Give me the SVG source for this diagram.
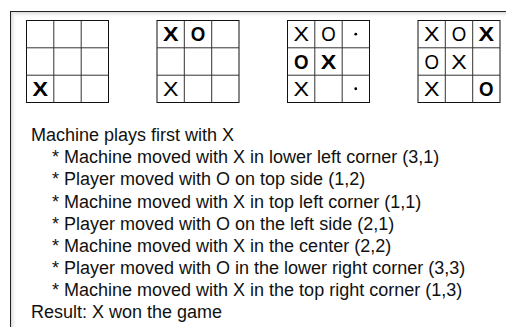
<svg xmlns="http://www.w3.org/2000/svg" xmlns:xlink="http://www.w3.org/1999/xlink" width="506" height="327" viewBox="0 0 506 327">
  <style>
    .grid { fill: #fff; stroke: #111; stroke-width: 1; }
    .gl { stroke: #333; stroke-width: 1; fill: none; }
    .m { font-family: "Liberation Sans", Arial, sans-serif; font-size: 20px; text-anchor: middle; fill: #000; }
    .b { font-weight: bold; }
    .t { font-family: "Liberation Sans", Arial, sans-serif; font-size: 18px; fill: #111; }
  </style>
  <defs>
    <linearGradient id="shTop" x1="0" y1="0" x2="0" y2="1">
      <stop offset="0" stop-color="#d8d8d8"/>
      <stop offset="1" stop-color="#ffffff" stop-opacity="0"/>
    </linearGradient>
    <linearGradient id="shLeft" x1="0" y1="0" x2="1" y2="0">
      <stop offset="0" stop-color="#d8d8d8"/>
      <stop offset="1" stop-color="#ffffff" stop-opacity="0"/>
    </linearGradient>
    <g id="board">
      <rect class="grid" x="0" y="0" width="82" height="82"/>
      <path class="gl" d="M27.3 0V82M54.7 0V82M0 27.3H82M0 54.7H82"/>
    </g>
  </defs>
  <rect x="0" y="0" width="506" height="327" fill="#fff"/>
  <g id="frame">
    <rect x="10.5" y="11.5" width="600" height="400" fill="#fff" stroke="#222" stroke-width="1"/>
    <rect x="11" y="12" width="495" height="6" fill="url(#shTop)"/>
    <rect x="11" y="12" width="6" height="315" fill="url(#shLeft)"/>
  </g>
  <g id="board1">
    <use href="#board" x="26.5" y="20.5"/>
    <text class="m b" x="40.15" y="96" textLength="15.5" lengthAdjust="spacingAndGlyphs">X</text>
  </g>
  <g id="board2">
    <use href="#board" x="157" y="20.5"/>
    <text class="m b" x="170.65" y="41.4" textLength="15.5" lengthAdjust="spacingAndGlyphs">X</text>
    <text class="m b" x="197.95" y="41.4" textLength="14.5" lengthAdjust="spacingAndGlyphs">O</text>
    <text class="m" x="170.65" y="96" textLength="15.5" lengthAdjust="spacingAndGlyphs">X</text>
  </g>
  <g id="board3">
    <use href="#board" x="287.5" y="20.5"/>
    <text class="m" x="301.15" y="41.4" textLength="15.5" lengthAdjust="spacingAndGlyphs">X</text>
    <text class="m" x="328.45" y="41.4" textLength="14.5" lengthAdjust="spacingAndGlyphs">O</text>
    <circle cx="355.75" cy="34.15" r="1.4" fill="#000"/>
    <text class="m b" x="301.15" y="68.7" textLength="14.5" lengthAdjust="spacingAndGlyphs">O</text>
    <text class="m b" x="328.45" y="68.7" textLength="15.5" lengthAdjust="spacingAndGlyphs">X</text>
    <text class="m" x="301.15" y="96" textLength="15.5" lengthAdjust="spacingAndGlyphs">X</text>
    <circle cx="355.75" cy="88.75" r="1.4" fill="#000"/>
  </g>
  <g id="board4">
    <use href="#board" x="418" y="20.5"/>
    <text class="m" x="431.65" y="41.4" textLength="15.5" lengthAdjust="spacingAndGlyphs">X</text>
    <text class="m" x="458.95" y="41.4" textLength="14.5" lengthAdjust="spacingAndGlyphs">O</text>
    <text class="m b" x="486.25" y="41.4" textLength="15.5" lengthAdjust="spacingAndGlyphs">X</text>
    <text class="m" x="431.65" y="68.7" textLength="14.5" lengthAdjust="spacingAndGlyphs">O</text>
    <text class="m" x="458.95" y="68.7" textLength="15.5" lengthAdjust="spacingAndGlyphs">X</text>
    <text class="m" x="431.65" y="96" textLength="15.5" lengthAdjust="spacingAndGlyphs">X</text>
    <text class="m b" x="486.25" y="96" textLength="14.5" lengthAdjust="spacingAndGlyphs">O</text>
  </g>
  <g id="log">
    <text class="t" x="31" y="141">Machine plays first with X</text>
    <text class="t" x="52" y="163.2">* Machine moved with X in lower left corner (3,1)</text>
    <text class="t" x="52" y="185.3">* Player moved with O on top side (1,2)</text>
    <text class="t" x="52" y="207.5">* Machine moved with X in top left corner (1,1)</text>
    <text class="t" x="52" y="229.6">* Player moved with O on the left side (2,1)</text>
    <text class="t" x="52" y="251.8">* Machine moved with X in the center (2,2)</text>
    <text class="t" x="52" y="274">* Player moved with O in the lower right corner (3,3)</text>
    <text class="t" x="52" y="296.1">* Machine moved with X in the top right corner (1,3)</text>
    <text class="t" x="31" y="318.3">Result: X won the game</text>
  </g>
</svg>
